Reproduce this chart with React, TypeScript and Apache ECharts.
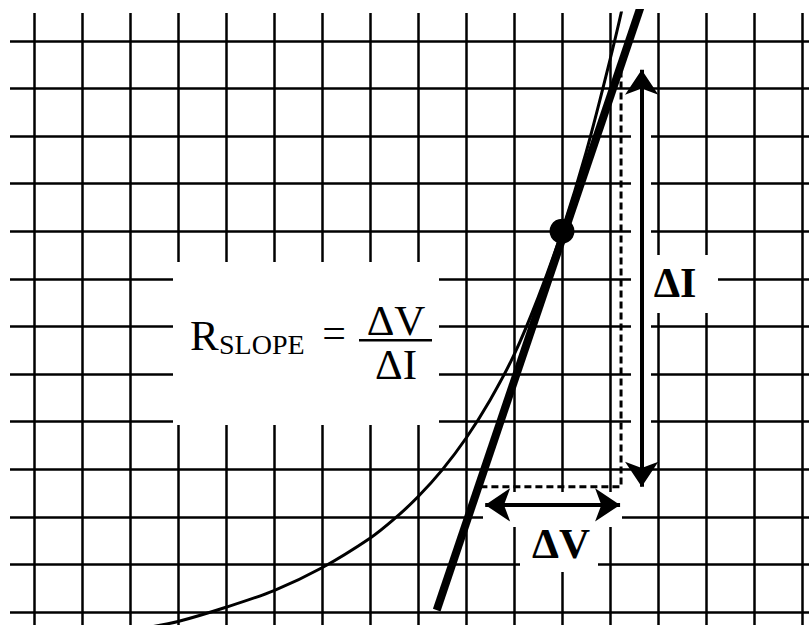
import React, { useEffect, useRef } from "react";
import * as echarts from "echarts";

// Grid (graph paper) tick positions, in grid units
const X_TICKS = [0, 1, 2, 3, 4, 5, 6, 7, 8, 9, 10, 11, 12, 13, 14, 15, 16];
const Y_TICKS = [0, 1, 2, 3, 4, 5, 6, 7, 8, 9, 10, 11, 12];

// I-V curve (V along x, I along y)
const CURVE_V = [2.4, 3.0, 4.0, 5.0, 6.0, 7.0, 7.5, 8.0, 8.5, 9.0, 9.5, 10.0, 10.5, 11.0, 11.5, 12.0, 12.3, 12.6];
const CURVE_I = [-0.32, -0.2, 0.1, 0.45, 0.93, 1.55, 1.95, 2.42, 2.98, 3.65, 4.45, 5.4, 6.6, 8.0, 9.65, 11.6, 12.9, 14.5];

// Tangent line at the operating point
const TANGENT_V = [8.39, 12.7];
const TANGENT_I = [0.04, 12.9];

// Operating point
const POINT_V = [11];
const POINT_I = [8];

// Construction (dashed) triangle legs
const DASH_V = [9.3, 12.23, 12.23];
const DASH_I = [2.63, 2.63, 11.35];

// Arrows: tip positions
const DV_ARROW_V = [9.4, 12.21];
const DV_ARROW_I = [2.25, 2.25];
const DI_ARROW_V = [12.66, 12.66];
const DI_ARROW_I = [11.39, 2.63];

const W = 809;
const H = 625;
const GRID_LEFT = 10;
const GRID_TOP = 13;
const PX_X = 48;
const PX_Y = 47.6;
const X_MIN = -0.5;
const X_MAX = X_MIN + (W - GRID_LEFT) / PX_X;
const Y_MIN = -13 / PX_Y;
const Y_MAX = Y_MIN + (H - GRID_TOP) / PX_Y;

const ARROW = 25;
const SERIF = "Liberation Serif";

export default function App() {
  const ref = useRef<HTMLDivElement>(null);
  useEffect(() => {
    if (!ref.current) return;
    const chart = echarts.init(ref.current, null, { renderer: "svg" });

    const gridLines = [
      ...X_TICKS.map((x) => ({ coords: [[x, Y_MIN], [x, Y_MAX]] })),
      ...Y_TICKS.map((y) => ({ coords: [[X_MIN, y], [X_MAX, y]] })),
    ];

    const maskRect = (x1: number, y1: number, x2: number, y2: number) => ({
      type: "rect",
      z: 3,
      silent: true,
      shape: { x: x1, y: y1, width: x2 - x1, height: y2 - y1 },
      style: { fill: "#fff" },
    });

    const txt = (text: string, x: number, y: number, size: number, bold = false, align = "center") => ({
      type: "text",
      z: 8,
      silent: true,
      style: {
        text,
        x,
        y,
        fontFamily: SERIF,
        fontSize: size,
        fontWeight: bold ? "bold" : "normal",
        fill: "#000",
        align,
        verticalAlign: "middle",
      },
    });

    chart.setOption({
      animation: false,
      grid: { left: GRID_LEFT, top: GRID_TOP, right: 0, bottom: 0, containLabel: false },
      xAxis: {
        type: "value",
        min: X_MIN,
        max: X_MAX,
        axisLine: { show: false },
        axisTick: { show: false },
        axisLabel: { show: false },
        splitLine: { show: false },
      },
      yAxis: {
        type: "value",
        min: Y_MIN,
        max: Y_MAX,
        axisLine: { show: false },
        axisTick: { show: false },
        axisLabel: { show: false },
        splitLine: { show: false },
      },
      series: [
        {
          type: "lines",
          coordinateSystem: "cartesian2d",
          silent: true,
          z: 1,
          symbol: "none",
          lineStyle: { color: "#000", width: 2.5, opacity: 1, curveness: 0 },
          data: gridLines,
        },
        {
          type: "line",
          z: 5,
          silent: true,
          smooth: 0.3,
          symbol: "none",
          lineStyle: { color: "#000", width: 3 },
          data: CURVE_V.map((v, i) => [v, CURVE_I[i]]),
        },
        {
          type: "line",
          z: 5,
          silent: true,
          symbol: "none",
          lineStyle: { color: "#000", width: 8 },
          data: TANGENT_V.map((v, i) => [v, TANGENT_I[i]]),
        },
        {
          type: "lines",
          coordinateSystem: "cartesian2d",
          polyline: true,
          silent: true,
          z: 5,
          symbol: "none",
          lineStyle: { color: "#000", width: 3, opacity: 1, type: [7, 4] },
          data: [{ coords: DASH_V.map((v, i) => [v, DASH_I[i]]) }],
        },
        {
          type: "lines",
          coordinateSystem: "cartesian2d",
          silent: true,
          z: 6,
          symbol: ["arrow", "arrow"],
          symbolSize: ARROW,
          lineStyle: { color: "#000", width: 4, opacity: 1, curveness: 0 },
          itemStyle: { color: "#000" },
          data: [
            { coords: DV_ARROW_V.map((v, i) => [v, DV_ARROW_I[i]]) },
            { coords: DI_ARROW_V.map((v, i) => [v, DI_ARROW_I[i]]) },
          ],
        },
        {
          type: "scatter",
          z: 7,
          silent: true,
          symbolSize: 25,
          itemStyle: { color: "#000", opacity: 1 },
          data: POINT_V.map((v, i) => [v, POINT_I[i]]),
        },
      ],
      graphic: [
        maskRect(173, 262, 439, 425),
        maskRect(631, 62, 651, 495),
        maskRect(651, 255, 718, 313),
        maskRect(483, 492, 622, 527),
        maskRect(520, 527, 598, 572),
        txt("R", 190, 335, 43, false, "left"),
        txt("SLOPE", 219, 344, 28, false, "left"),
        txt("=", 334, 333, 42),
        txt("ΔV", 396, 320, 43),
        {
          type: "rect",
          z: 8,
          silent: true,
          shape: { x: 359, y: 339, width: 73, height: 2.5 },
          style: { fill: "#000" },
        },
        txt("ΔI", 396, 364, 43),
        txt("ΔI", 675, 283, 42, true),
        txt("ΔV", 561, 543, 43, true),
      ],
    });
    return () => chart.dispose();
  }, []);
  return <div ref={ref} style={{ position: "absolute", left: 0, top: 0, width: W, height: H }} />;
}
